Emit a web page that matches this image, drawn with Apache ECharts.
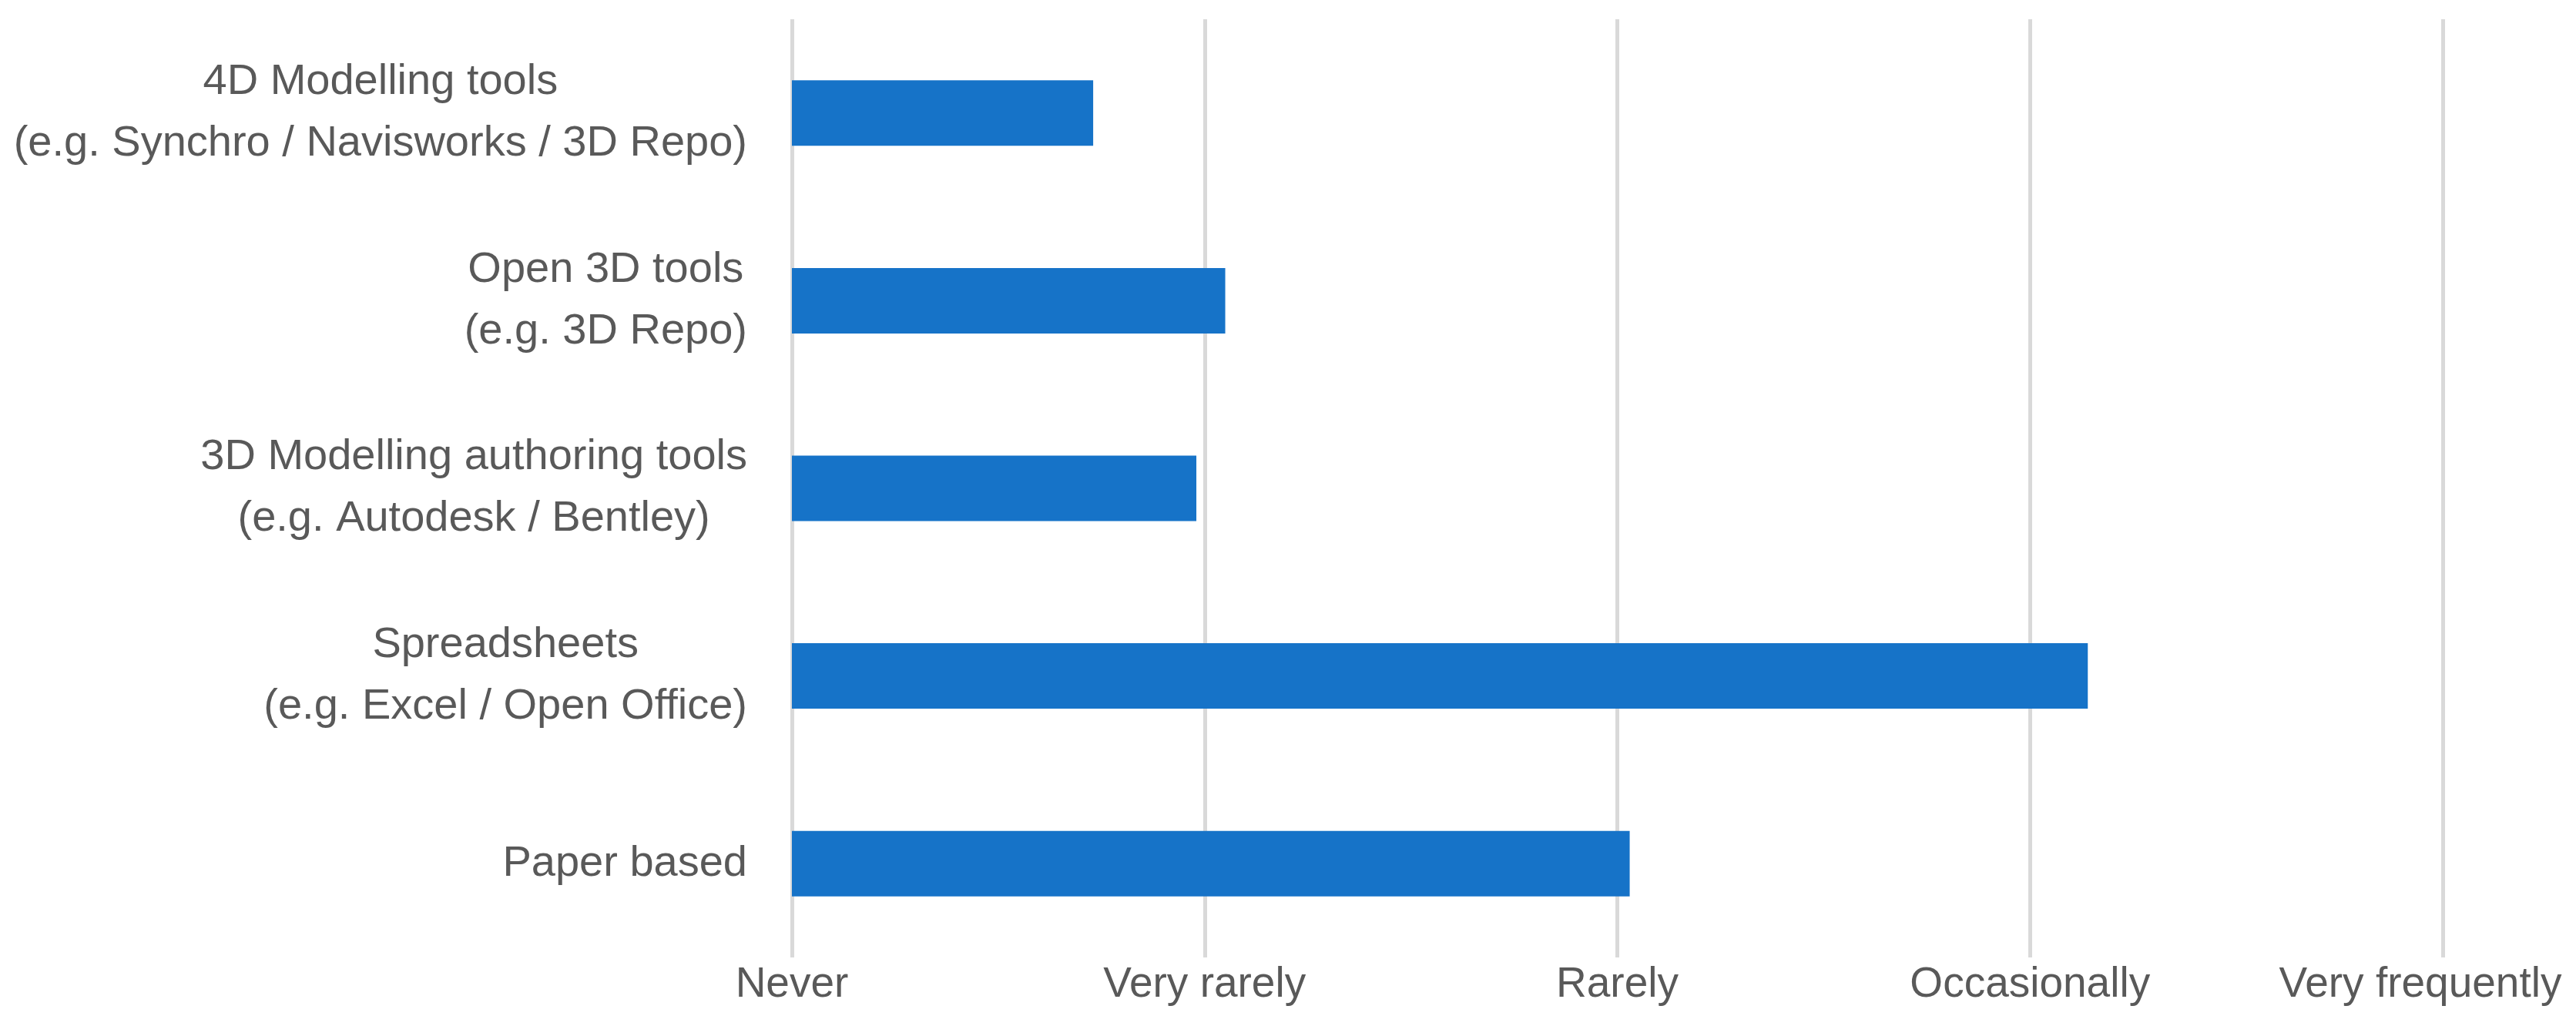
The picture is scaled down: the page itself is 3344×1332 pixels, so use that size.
<!DOCTYPE html>
<html>
<head>
<meta charset="utf-8">
<script src="https://cdn.jsdelivr.net/npm/echarts@6/dist/echarts.min.js"></script>
<style>
html,body{margin:0;padding:0;background:#fff;}
#chart{width:3344px;height:1332px;}
</style>
</head>
<body>
<div id="chart"></div>
<script>
const categories = [
  '4D Modelling tools\n(e.g. Synchro / Navisworks / 3D Repo)',
  'Open 3D tools\n(e.g. 3D Repo)',
  '3D Modelling authoring tools\n(e.g. Autodesk / Bentley)',
  'Spreadsheets\n(e.g. Excel / Open Office)',
  'Paper based'
];
const usageValues = [0.73, 1.05, 0.98, 3.14, 2.03];
const frequencyLabels = ['Never', 'Very rarely', 'Rarely', 'Occasionally', 'Very frequently'];

const FONT = 'Liberation Sans';
const TEXT = '#595959';

const chart = echarts.init(document.getElementById('chart'), null, {renderer: 'canvas'});
chart.setOption({
  backgroundColor: '#ffffff',
  animation: false,
  grid: {left: 1028, right: 173, top: 25, bottom: 89, containLabel: false},
  xAxis: {
    type: 'value',
    min: 0,
    max: frequencyLabels.length - 1,
    interval: 1,
    axisLine: {show: false},
    axisTick: {show: false},
    splitLine: {show: true, lineStyle: {color: '#D9D9D9', width: 5}},
    axisLabel: {
      margin: 8,
      color: TEXT,
      fontFamily: FONT,
      fontSize: 55,
      formatter: v => {
        const i = Math.round(v);
        const s = frequencyLabels[i] || '';
        return i === frequencyLabels.length - 1 ? '{last|' + s + '}' : s;
      },
      rich: {
        last: {color: TEXT, fontFamily: FONT, fontSize: 55, padding: [0, 58, 0, 0]}
      }
    }
  },
  yAxis: {
    type: 'category',
    inverse: true,
    data: categories,
    axisLine: {show: false},
    axisTick: {show: false},
    splitLine: {show: false},
    axisLabel: {
      margin: 58,
      color: TEXT,
      fontFamily: FONT,
      fontSize: 56,
      lineHeight: 80,
      align: 'right',
      formatter: v => v.split('\n').map(s => '{c|' + s + '}').join('\n'),
      rich: {
        c: {align: 'center', color: TEXT, fontFamily: FONT, fontSize: 56, lineHeight: 80}
      }
    }
  },
  series: [{
    type: 'bar',
    data: usageValues,
    barWidth: 85,
    itemStyle: {color: '#1673C8'}
  }]
});
</script>
</body>
</html>
